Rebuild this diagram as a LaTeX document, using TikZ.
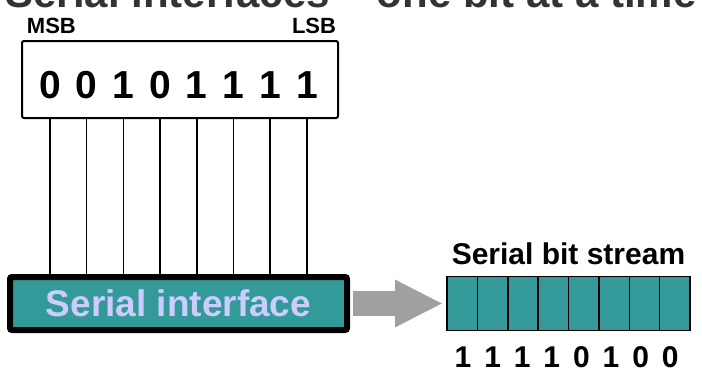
\documentclass[tikz,border=0pt]{standalone}
\usepackage{fontspec}
\setmainfont{Liberation Sans}
\usetikzlibrary{arrows.meta, positioning}
\definecolor{streamteal}{RGB}{51,153,153}
\definecolor{ifacetext}{RGB}{204,204,255}
\definecolor{arrowgray}{RGB}{160,160,160}

\begin{document}
\begin{tikzpicture}[
      x=1pt, y=-1pt,
      >={Triangle[length=48pt,width=44pt]},
      every node/.append style={inner sep=0pt, outer sep=0pt},
      regbox/.style={rectangle, rounded corners=2pt, draw, line width=2pt,
                     minimum width=316pt, minimum height=77pt},
      ifacebox/.style={rectangle, rounded corners=2pt, draw, line width=6pt,
                       fill=streamteal, minimum width=337pt, minimum height=53pt,
                       text=ifacetext, font=\fontsize{37}{37}\selectfont\bfseries},
      cell/.style={rectangle, draw, line width=1.5pt, fill=streamteal,
                   minimum width=30.375pt, minimum height=54pt},
      bigbit/.style={anchor=base, font=\fontsize{39}{39}\selectfont\bfseries},
      smallbit/.style={anchor=base, font=\fontsize{30}{30}\selectfont\bfseries},
      tag/.style={font=\fontsize{22}{22}\selectfont\bfseries},
      wire/.style={line width=1.5pt},
    ]
      \clip (0,0) rectangle (702,372);

      % title, cut off at the top edge
      \node[anchor=base, text=black!80, font=\fontsize{42}{42}\selectfont\bfseries]
        (title) at (351,8) {Serial interfaces -- one bit at a time};

      % parallel register
      \node[regbox] (reg) at (180,79.5) {};
      \node[tag, anchor=base west] (msb) at (27,33) {MSB};
      \node[tag, anchor=base east] (lsb) at (336,33) {LSB};
      \foreach \b [count=\i] in {0,0,1,0,1,1,1,1}
        \node[bigbit] (d\i) at ({50+36.7*(\i-1)},98) {\b};

      \node[ifacebox] (iface) at (178.5,303.5) {Serial interface};
      \foreach \i in {1,...,8}
        \draw[wire] (d\i |- reg.south) -- (d\i |- iface.north);

      % serial bit stream
      \foreach \b [count=\i] in {1,1,1,1,0,1,0,0} {
        \node[cell] (c\i) at ({447+30.375*(\i-0.5)},303.5) {};
        \node[smallbit] (s\i) at ({463+29.6*(\i-1)},367) {\b};
      }
      \node[font=\fontsize{30}{30}\selectfont\bfseries, above=11.5pt of c4.north east]
        (streamlbl) {Serial bit stream};

      \draw[arrowgray, line width=25pt, ->] ([xshift=6pt]iface.east) -- ([xshift=-4pt]c1.west);
    \end{tikzpicture}
\end{document}
